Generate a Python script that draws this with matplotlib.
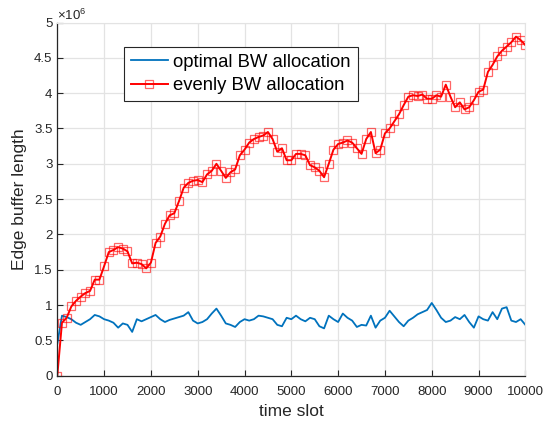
import matplotlib
matplotlib.use('Agg')
import matplotlib.pyplot as plt

plt.rcParams['font.family'] = ['Liberation Sans', 'DejaVu Sans']
plt.rcParams['mathtext.fontset'] = 'custom'
plt.rcParams['mathtext.rm'] = 'Liberation Sans'

# time slots, read every 100 slots
time_slot = list(range(0, 10001, 100))

# edge buffer length, in units of 1e6
optimal_bw = [0.45, 0.85, 0.83, 0.80, 0.75, 0.72, 0.76, 0.80, 0.86, 0.84,
              0.80, 0.78, 0.75, 0.68, 0.74, 0.72, 0.62, 0.80, 0.77, 0.80,
              0.83, 0.86, 0.80, 0.76, 0.79, 0.81, 0.83, 0.85, 0.90, 0.78,
              0.74, 0.76, 0.80, 0.88, 0.95, 0.85, 0.74, 0.72, 0.69, 0.76,
              0.80, 0.78, 0.80, 0.85, 0.84, 0.82, 0.80, 0.72, 0.70, 0.82,
              0.80, 0.85, 0.80, 0.77, 0.82, 0.80, 0.70, 0.67, 0.85, 0.80,
              0.76, 0.88, 0.82, 0.78, 0.69, 0.72, 0.71, 0.85, 0.68, 0.78,
              0.82, 0.92, 0.84, 0.76, 0.70, 0.78, 0.82, 0.87, 0.90, 0.93,
              1.03, 0.93, 0.82, 0.76, 0.78, 0.83, 0.80, 0.86, 0.76, 0.68,
              0.84, 0.80, 0.78, 0.90, 0.80, 0.95, 0.97, 0.78, 0.76, 0.80,
              0.72]

evenly_bw = [0.00, 0.75, 0.82, 0.98, 1.06, 1.12, 1.17, 1.20, 1.36, 1.36,
             1.55, 1.75, 1.78, 1.82, 1.80, 1.76, 1.59, 1.60, 1.58, 1.52,
             1.60, 1.88, 1.97, 2.15, 2.27, 2.30, 2.47, 2.66, 2.73, 2.76,
             2.77, 2.74, 2.85, 2.90, 3.00, 2.90, 2.80, 2.88, 2.92, 3.12,
             3.20, 3.30, 3.35, 3.38, 3.40, 3.45, 3.35, 3.17, 3.22, 3.05,
             3.05, 3.14, 3.14, 3.12, 2.98, 2.95, 2.90, 2.81, 3.00, 3.20,
             3.28, 3.30, 3.33, 3.30, 3.22, 3.14, 3.35, 3.45, 3.15, 3.20,
             3.43, 3.50, 3.60, 3.70, 3.83, 3.95, 3.97, 3.96, 3.98, 3.92,
             3.92, 3.97, 3.95, 4.12, 3.95, 3.80, 3.87, 3.77, 3.80, 3.90,
             4.02, 4.05, 4.30, 4.40, 4.52, 4.60, 4.66, 4.72, 4.80, 4.75,
             4.68]

fig = plt.figure(figsize=(5.43, 4.23), dpi=100)
ax = fig.add_axes([0.1055, 0.1118, 0.862, 0.835])

ax.plot(time_slot, optimal_bw, color=(0, 0.447, 0.741), lw=1.3,
        label='optimal BW allocation')
ax.plot(time_slot, evenly_bw, color='red', lw=1.4, marker='s', markersize=6,
        markerfacecolor='none', markeredgecolor=(1, 0, 0, 0.6),
        markeredgewidth=0.9, label='evenly BW allocation')

ax.set_xlim(0, 10000)
ax.set_ylim(0, 5)
ax.set_xticks(range(0, 10001, 1000))
ax.set_yticks([0, 0.5, 1, 1.5, 2, 2.5, 3, 3.5, 4, 4.5, 5])
ax.set_yticklabels(['0', '0.5', '1', '1.5', '2', '2.5', '3', '3.5', '4', '4.5', '5'])

ax.grid(True, color='#e3e3e3', lw=0.9)
ax.set_axisbelow(True)
for s in ['top', 'right']:
    ax.spines[s].set_color('#e3e3e3')
for s in ['left', 'bottom']:
    ax.spines[s].set_color('#262626')
    ax.spines[s].set_linewidth(0.9)
ax.tick_params(direction='in', length=4, width=0.8, colors='#262626',
               labelsize=9.5, labelcolor='#262626')
ax.tick_params(axis='x', pad=7.5)

ax.set_xlabel('time slot', fontsize=12.5, color='#262626', labelpad=4)
ax.set_ylabel('Edge buffer length', fontsize=12.5, color='#262626', labelpad=5)
ax.text(0.0, 0.998, r'$\times10^{6}$', transform=ax.transAxes, fontsize=9.5,
        color='#262626', ha='left', va='bottom')

leg = ax.legend(loc='upper left', bbox_to_anchor=(0.1425, 0.931),
                borderaxespad=0, fancybox=False, fontsize=13.3,
                handlelength=2.0, handletextpad=0.3, borderpad=0.38,
                labelspacing=0.35, framealpha=1)
leg.get_frame().set_edgecolor('#262626')
leg.get_frame().set_linewidth(0.8)

fig.savefig('out.png', dpi=100)
